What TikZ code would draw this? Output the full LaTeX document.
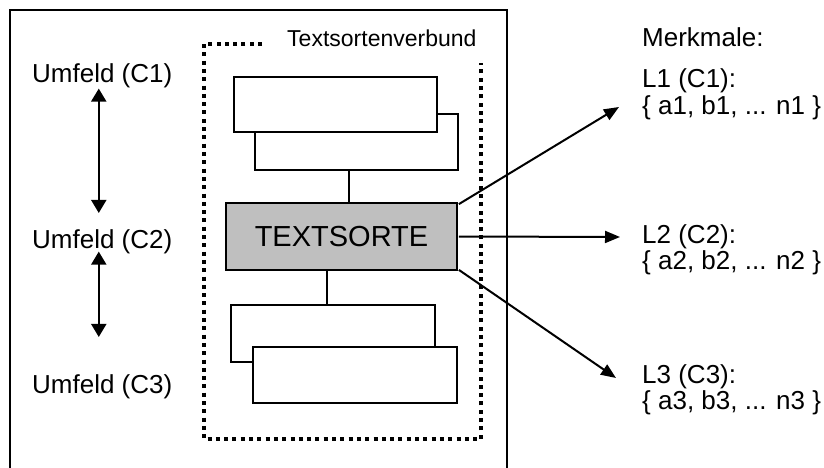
\documentclass[tikz,border=0pt]{standalone}
\usepackage{fontspec}
\setmainfont{Liberation Sans}
\usetikzlibrary{arrows.meta,calc}

\begin{document}
\begin{tikzpicture}[x=1pt,y=-1pt,
  frame/.style={line width=1.8pt},
  lbl/.style={anchor=base west,inner sep=0pt,font=\fontsize{26}{26}\selectfont},
  boxw/.style={draw,line width=1.8pt,fill=white,inner sep=0pt},
  link/.style={line width=1.8pt},
  dots/.style={line width=3.6pt,dash pattern=on 4pt off 4.3pt},
  bidir/.style={line width=2pt,{Triangle[length=13pt,width=15pt]}-{Triangle[length=13pt,width=15pt]}},
  outarrow/.style={line width=2pt,-{Triangle[length=15pt,width=12pt]}}]

  \useasboundingbox (0,0) rectangle (824,468);

  % outer frame, open at the bottom
  \draw[frame] (10,468) -- (10,10) -- (507,10) -- (507,468);

  % dotted frame of the Textsortenverbund
  \draw[dots] (262,44) -- (204,44) -- (204,439) -- (481,439) -- (481,63);
  \node[anchor=base west,inner sep=0pt,font=\fontsize{23}{23}\selectfont]
    (verbund) at (287,47) {Textsortenverbund};

  % stacked boxes above
  \node[boxw,minimum width=203pt,minimum height=56pt] (r2) at (356.5,142) {};
  \node[boxw,minimum width=203pt,minimum height=55pt] (r1) at (335.5,104.5) {};

  % central text type
  \node[draw,line width=1.8pt,fill=black!25,inner sep=0pt,
        minimum width=231pt,minimum height=67pt,
        font=\fontsize{29}{29}\selectfont] (ts) at (341.5,236.5) {TEXTSORTE};

  % stacked boxes below
  \node[boxw,minimum width=204pt,minimum height=57pt] (r3) at (333,333.5) {};
  \node[boxw,minimum width=204pt,minimum height=56pt] (r4) at (355,375) {};

  % vertical links
  \draw[link] (r2.south -| ts.north) ++(7.5,0) coordinate (la) -- (la |- ts.north);
  \draw[link] (r3.north -| ts.south) ++(-14.5,0) coordinate (lb) -- (lb |- ts.south);

  % surroundings
  \node[lbl] (u1) at (32,83) {Umfeld (C1)};
  \node[lbl] (u2) at (32,248) {Umfeld (C2)};
  \node[lbl] (u3) at (32,393) {Umfeld (C3)};
  \draw[bidir] ([xshift=-3.5pt,yshift=0pt]u1.south) -- ([xshift=-3.5pt,yshift=16pt]u2.north);
  \draw[bidir] ([xshift=-3.5pt,yshift=2pt]u2.south) -- ([xshift=-3.5pt,yshift=37pt]u3.north);

  % features
  \node[lbl] (mk) at (642,47) {Merkmale:};
  \node[lbl] (l1) at (642,88) {L1 (C1):};
  \node[lbl] (f1) at (642,114) {\{ a1, b1, ... n1 \}};
  \node[lbl] (l2) at (642,243) {L2 (C2):};
  \node[lbl] (f2) at (642,269) {\{ a2, b2, ... n2 \}};
  \node[lbl] (l3) at (642,383) {L3 (C3):};
  \node[lbl] (f3) at (642,409) {\{ a3, b3, ... n3 \}};

  \coordinate (e1) at (619,107);
  \coordinate (e2) at (620,237);
  \coordinate (e3) at (616,378);
  \draw[outarrow] ([xshift=1pt,yshift=-2pt]ts.north east) -- (e1);
  \draw[outarrow] ([xshift=1pt]ts.east) -- (e2);
  \draw[outarrow] ([xshift=1pt,yshift=1pt]ts.south east) -- (e3);
\end{tikzpicture}
\end{document}
